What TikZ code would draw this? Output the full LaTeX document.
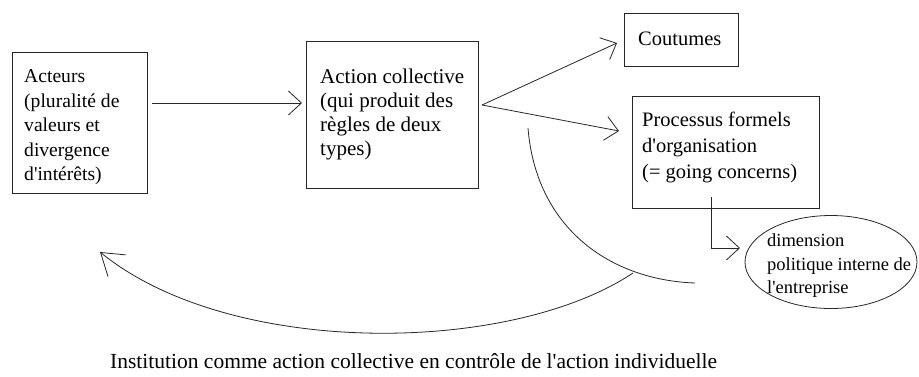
\documentclass[tikz,border=0pt]{standalone}
\usepackage{fontspec}
\setmainfont{Liberation Serif}[Ligatures=TeXOff]
\usetikzlibrary{arrows.meta,shapes.geometric}

\tikzset{
  box/.style={draw=black!85, line width=0.8pt, rectangle, inner sep=0pt, anchor=north west},
  oval/.style={draw=black!85, line width=0.8pt, ellipse, inner sep=0pt},
  txt/.style={inner sep=0pt, align=left, anchor=north west,
    font=\fontsize{20.5}{24.4}\selectfont},
  link/.style={draw=black!85, line width=0.8pt},
  arr/.style={link, -{Straight Barb[length=13pt, width=24pt, line width=0.8pt]}},
  bigarr/.style={link, -{Straight Barb[length=21pt, width=28pt, line width=0.8pt]}},
}

\begin{document}
\begin{tikzpicture}[x=1pt, y=-1pt]
  \useasboundingbox (0,0) rectangle (919,376);

  % boxes
  \node[box, minimum width=135pt, minimum height=141pt] (acteurs) at (12,52) {};
  \node[box, minimum width=172pt, minimum height=147pt] (action) at (306,41) {};
  \node[box, minimum width=114pt, minimum height=53pt] (coutumes) at (624,13) {};
  \node[box, minimum width=187pt, minimum height=112pt] (processus) at (632,96) {};
  \node[oval, minimum width=172pt, minimum height=93pt] (politique) at (831,262) {};

  % texts (first baseline = top + strut height)
  \node[txt, font=\fontsize{19.6}{24.4}\selectfont] (acteurs-t) at (24,82.7-17.08) {\strut Acteurs\\(pluralité de\\valeurs et\\divergence\\d'intérêts)};
  \node[txt, font=\fontsize{21}{24.1}\selectfont] (action-t) at (320,83.3-16.87) {\strut Action collective\\(qui produit des\\règles de deux\\types)};
  \node[txt, anchor=base west] (coutumes-t) at (638,45) {Coutumes};
  \node[txt, font=\fontsize{20.5}{25.8}\selectfont] (processus-t) at (642,126.7-18.06) {\strut Processus formels\\d'organisation\\(= going concerns)};
  \node[txt, font=\fontsize{18.5}{23.3}\selectfont] (politique-t) at (767,246.7-16.31) {\strut dimension\\politique interne de\\l'entreprise};
  \node[txt, anchor=base west, font=\fontsize{21.5}{25}\selectfont] (legende) at (110,368) {Institution comme action collective en contrôle de l'action individuelle};

  % connectors
  \coordinate (a1) at (152,103);
  \coordinate (a2) at (302,103);
  \draw[arr] (a1) -- (a2);
  \coordinate (fork) at (482,105);
  \coordinate (to-cout) at (617,43);
  \coordinate (to-proc) at (619,131);
  \draw[arr] (fork) -- (to-cout);
  \draw[arr] (fork) -- (to-proc);

  \coordinate (proc-in) at (711,197);
  \coordinate (pol-in) at (740,248);
  \draw[arr] (proc-in) |- (pol-in);

  % feedback curves
  \coordinate (arc-start) at (528,128);
  \coordinate (arc-end) at (695,283);
  \draw[link] (arc-start) .. controls (536,228) and (610,280) .. (arc-end);

  \coordinate (back-start) at (633,273);
  \coordinate (back-end) at (100,252);
  \draw[bigarr] (back-start) .. controls (510,355) and (230,358) .. (back-end);
\end{tikzpicture}
\end{document}
